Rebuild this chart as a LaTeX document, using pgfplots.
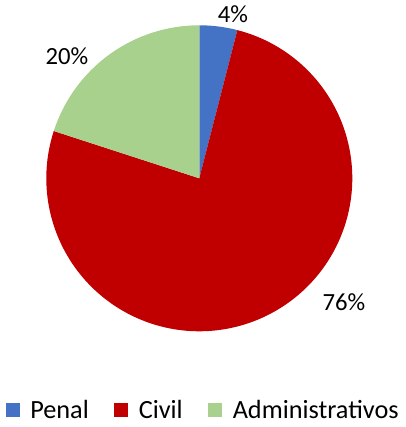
\documentclass[border=0pt]{standalone}
\usepackage{pgfplots}
\usepackage{pgfplotstable}
\pgfplotsset{compat=1.18}
\usepackage{fontspec}
\setmainfont{Carlito}
\definecolor{cPenal}{HTML}{4472C4}
\definecolor{cCivil}{HTML}{C00000}
\definecolor{cAdmin}{HTML}{A9D18E}
\pgfplotstableread{
name share
Penal 4
Civil 76
Administrativos 20
}\shares
\pgfplotsset{sqlegend/.style={legend image code/.code={\fill[##1] (0pt,-5.25pt) rectangle (10.5pt,5.25pt);}}}
\def\cx{199.3}\def\cy{248.7}\def\rr{153}
\begin{document}%
\begin{tikzpicture}
\pgfplotstablegetelem{0}{share}\of\shares \let\sA\pgfplotsretval
\pgfplotstablegetelem{1}{share}\of\shares \let\sB\pgfplotsretval
\pgfplotstablegetelem{2}{share}\of\shares \let\sC\pgfplotsretval
\pgfmathsetmacro{\aA}{90}
\pgfmathsetmacro{\aB}{\aA-3.6*\sA}
\pgfmathsetmacro{\aC}{\aB-3.6*\sB}
\pgfmathsetmacro{\aD}{\aC-3.6*\sC}
\begin{axis}[scale only axis, width=302.25pt, height=320.25pt,
  xmin=0, xmax=403, ymin=0, ymax=427, hide axis, clip=false,
  sqlegend, legend columns=3,
  legend style={at={(axis cs:203.5,17)}, anchor=center, draw=none, fill=none,
    font=\fontsize{19.7}{22}\selectfont,
    /tikz/every odd column/.append style={column sep=6pt},
    /tikz/every even column/.append style={column sep=17pt}}]
\path (rel axis cs:0,0) rectangle (rel axis cs:1,1);
\addplot[fill=cPenal, draw=none, domain=\aB:\aA, samples=20, variable=\t]
  ({\cx+\rr*cos(\t)},{\cy+\rr*sin(\t)}) -- (axis cs:\cx,\cy) -- cycle;
\addlegendentry{Penal}
\addplot[fill=cCivil, draw=none, domain=\aC:\aB, samples=200, variable=\t]
  ({\cx+\rr*cos(\t)},{\cy+\rr*sin(\t)}) -- (axis cs:\cx,\cy) -- cycle;
\addlegendentry{Civil}
\addplot[fill=cAdmin, draw=none, domain=\aD:\aC, samples=50, variable=\t]
  ({\cx+\rr*cos(\t)},{\cy+\rr*sin(\t)}) -- (axis cs:\cx,\cy) -- cycle;
\addlegendentry{Administrativos}
\node[anchor=base, font=\fontsize{18.5}{20}\selectfont] at (axis cs:233,404) {4\%};
\node[anchor=base, font=\fontsize{18.5}{20}\selectfont] at (axis cs:67,362) {20\%};
\node[anchor=base, font=\fontsize{18.5}{20}\selectfont] at (axis cs:344,116) {76\%};
\end{axis}
\end{tikzpicture}%
\end{document}
